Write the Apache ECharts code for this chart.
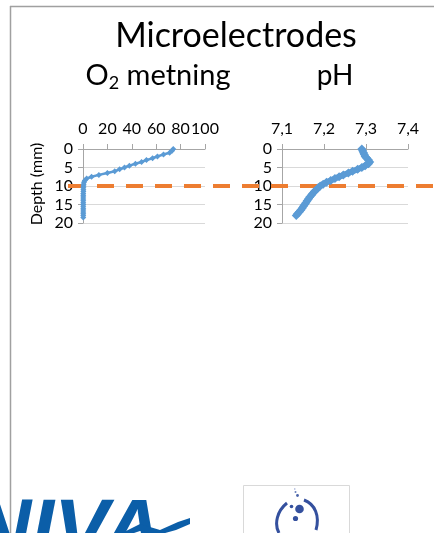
<!DOCTYPE html>
<html>
<head>
<meta charset="utf-8">
<script src="https://cdn.jsdelivr.net/npm/echarts@6/dist/echarts.min.js"></script>
<style>
  html, body { margin: 0; padding: 0; background: #ffffff; }
  #chart { width: 434px; height: 533px; }
</style>
</head>
<body>
<div id="chart"></div>
<script>
// Oxygen saturation profile (% saturation vs depth in mm)
const o2Depth = [0, 0.5, 1, 1.5, 2, 2.5, 3, 3.5, 4, 4.5, 5, 5.5, 6, 6.5, 7, 7.5, 8, 8.5, 9, 9.5,
  10, 10.5, 11, 11.5, 12, 12.5, 13, 13.5, 14, 14.5, 15, 15.5, 16, 16.5, 17, 17.5, 18, 18.5];
const o2Saturation = [74, 73, 71, 66, 61, 57, 52, 48, 43, 38, 34, 30, 26, 20, 13, 7, 3, 1.5, 0.8, 0.5,
  0.4, 0.3, 0.3, 0.3, 0.2, 0.2, 0.2, 0.2, 0.2, 0.2, 0.2, 0.2, 0.2, 0.2, 0.2, 0.2, 0.2, 0.2];

// pH profile vs depth in mm
const phDepth = [0, 0.5, 1, 1.5, 2, 2.5, 3, 3.5, 4, 4.5, 5, 5.5, 6, 6.5, 7, 7.5, 8, 8.5, 9, 9.5,
  10, 10.5, 11, 11.5, 12, 12.5, 13, 13.5, 14, 14.5, 15, 15.5, 16, 16.5, 17, 17.5, 18];
const phValues = [7.290, 7.292, 7.294, 7.296, 7.298, 7.302, 7.306, 7.309, 7.306, 7.298, 7.290, 7.280,
  7.268, 7.258, 7.246, 7.236, 7.226, 7.216, 7.206, 7.198, 7.191, 7.186, 7.182, 7.177, 7.173, 7.170,
  7.166, 7.163, 7.160, 7.157, 7.154, 7.151, 7.148, 7.145, 7.141, 7.137, 7.134];

// Axis ranges: [min, max, step]
const o2Axis = [0, 100, 20];
const phAxis = [7.1, 7.4, 0.1];
const depthAxis = [0, 20, 5];

// Oxic / anoxic boundary depth (mm)
const boundaryDepth = 10;

const FONT = 'Lato';
const BLUE = '#5B9BD5';
const ORANGE = '#ED7D31';
const AXIS_GREY = '#A6A6A6';
const GRID_GREY = '#D9D9D9';
const LOGO_BLUE = '#0B5EA8';
const BUBBLE_BLUE = '#34509E';

function pairs(xs, ys) { return xs.map((d, i) => [ys[i], d]); }

function depthYAxis(gridIndex) {
  return {
    type: 'value', gridIndex, inverse: true,
    min: depthAxis[0], max: depthAxis[1], interval: depthAxis[2],
    axisLine: { show: true, lineStyle: { color: AXIS_GREY, width: 1 } },
    axisTick: { show: true, length: 5, lineStyle: { color: AXIS_GREY } },
    axisLabel: { color: '#000', fontFamily: FONT, fontSize: 16, margin: 10 },
    splitLine: { show: true, lineStyle: { color: GRID_GREY, width: 1 } }
  };
}

function topXAxis(gridIndex, range, fmt) {
  return {
    type: 'value', gridIndex, position: 'top',
    min: range[0], max: range[1], interval: range[2],
    axisLine: { show: true, lineStyle: { color: AXIS_GREY, width: 1 } },
    axisTick: { show: true, length: 5, lineStyle: { color: AXIS_GREY } },
    axisLabel: { color: '#000', fontFamily: FONT, fontSize: 16, margin: 12, formatter: fmt },
    splitLine: { show: false }
  };
}

const chart = echarts.init(document.getElementById('chart'), null, { renderer: 'canvas' });

chart.setOption({
  animation: false,
  backgroundColor: '#ffffff',
  grid: [
    { left: 83, top: 149, width: 122, height: 74 },
    { left: 282, top: 149, width: 126, height: 74 }
  ],
  xAxis: [
    topXAxis(0, o2Axis, v => String(v)),
    topXAxis(1, phAxis, v => v.toFixed(1).replace('.', ','))
  ],
  yAxis: [depthYAxis(0), depthYAxis(1)],
  series: [
    {
      type: 'line', xAxisIndex: 0, yAxisIndex: 0, z: 5,
      data: pairs(o2Depth, o2Saturation),
      symbol: 'diamond', symbolSize: 6, showAllSymbol: true,
      lineStyle: { color: BLUE, width: 2.5 },
      itemStyle: { color: BLUE }
    },
    {
      type: 'line', xAxisIndex: 1, yAxisIndex: 1, z: 5,
      data: pairs(phDepth, phValues),
      symbol: 'diamond', symbolSize: 9, showAllSymbol: true,
      lineStyle: { color: BLUE, width: 6 },
      itemStyle: { color: BLUE }
    }
  ]
});

// Boundary line across both profiles, placed through the depth scale
const yBoundary = chart.convertToPixel({ gridIndex: 0 }, [0, boundaryDepth])[1];

chart.setOption({
  graphic: [
    // slide frame
    { type: 'line', shape: { x1: 10.5, y1: 6, x2: 10.5, y2: 533 }, style: { stroke: '#A0A0A0', lineWidth: 1.5 }, z: 1 },
    { type: 'line', shape: { x1: 10, y1: 6.5, x2: 434, y2: 6.5 }, style: { stroke: '#A0A0A0', lineWidth: 1.5 }, z: 1 },
    // headings
    { type: 'text', x: 236, y: 36, z: 10,
      style: { text: 'Microelectrodes', font: '34px ' + FONT, fill: '#000', textAlign: 'center', textVerticalAlign: 'middle' } },
    { type: 'text', x: 158, y: 76, z: 10,
      style: {
        text: '{a|O}{s|2}{a| metning}', textAlign: 'center', textVerticalAlign: 'middle',
        rich: {
          a: { fontFamily: FONT, fontSize: 29, color: '#000' },
          s: { fontFamily: FONT, fontSize: 18, color: '#000', padding: [15, 0, 0, 0] }
        }
      } },
    { type: 'text', x: 335, y: 76, z: 10,
      style: { text: 'pH', font: '28px ' + FONT, fill: '#000', textAlign: 'center', textVerticalAlign: 'middle' } },
    { type: 'text', x: 37, y: 184, rotation: Math.PI / 2, z: 10,
      style: { text: 'Depth (mm)', font: '16px ' + FONT, fill: '#000', textAlign: 'center', textVerticalAlign: 'middle' } },
    // boundary dashed line
    { type: 'line', z: 3, shape: { x1: 68, y1: yBoundary, x2: 434, y2: yBoundary },
      style: { stroke: ORANGE, lineWidth: 4, lineDash: [17, 12] } },
    // NIVA logo (lower left)
    { type: 'text', x: -28, y: 492, z: 10,
      style: { text: 'NIVA', font: 'italic 900 82px "Liberation Sans"', fill: LOGO_BLUE, textAlign: 'left', textVerticalAlign: 'top' } },
    { type: 'polygon', z: 11,
      shape: { points: [[122, 533], [140, 524], [160, 530], [178, 522], [190, 518], [190, 524], [176, 530], [158, 535], [140, 531], [128, 535]] },
      style: { fill: LOGO_BLUE } },
    // partner logo box (lower right)
    { type: 'rect', z: 10, shape: { x: 243.5, y: 485.5, width: 106, height: 60 },
      style: { fill: '#fff', stroke: '#D9D9D9', lineWidth: 1 } },
    { type: 'circle', z: 11, shape: { cx: 299.5, cy: 509, r: 4.3 }, style: { fill: BUBBLE_BLUE } },
    { type: 'circle', z: 11, shape: { cx: 295.5, cy: 518.5, r: 2.6 }, style: { fill: BUBBLE_BLUE } },
    { type: 'circle', z: 11, shape: { cx: 291.5, cy: 506.5, r: 1.8 }, style: { fill: BUBBLE_BLUE } },
    { type: 'circle', z: 11, shape: { cx: 297.5, cy: 495.5, r: 1.4 }, style: { fill: '#4A64AA' } },
    { type: 'circle', z: 11, shape: { cx: 295.5, cy: 492, r: 1 }, style: { fill: '#6A80BB' } },
    { type: 'circle', z: 11, shape: { cx: 294.8, cy: 489, r: 0.7 }, style: { fill: '#8A9ACB' } },
    { type: 'bezierCurve', z: 11,
      shape: { x1: 287, y1: 503, x2: 279, y2: 533, cpx1: 277, cpy1: 511, cpx2: 274, cpy2: 524 },
      style: { stroke: BUBBLE_BLUE, lineWidth: 3, fill: null } },
    { type: 'bezierCurve', z: 11,
      shape: { x1: 304, y1: 500, x2: 316, y2: 530, cpx1: 315, cpx2: 320, cpy1: 504, cpy2: 516 },
      style: { stroke: BUBBLE_BLUE, lineWidth: 3, fill: null } }
  ]
});
</script>
</body>
</html>
